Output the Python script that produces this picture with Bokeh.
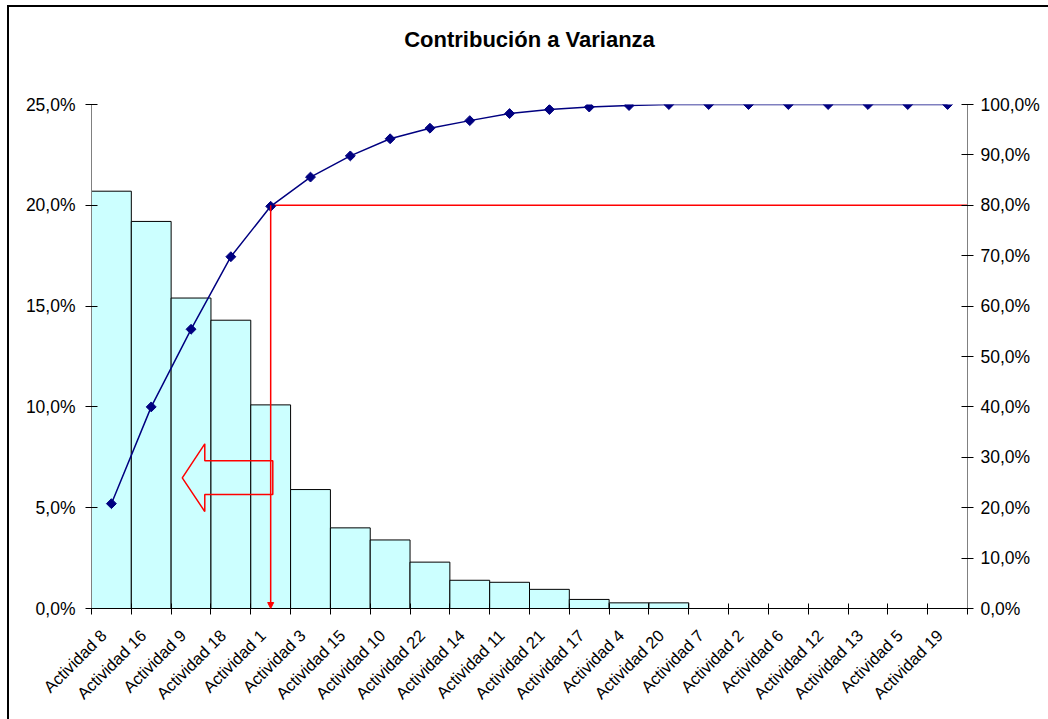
import numpy as np
from bokeh.plotting import figure
from bokeh.models import Range1d, LinearAxis, FixedTicker, Arrow, NormalHead, Title
from bokeh.embed import file_html
from bokeh.resources import INLINE

# ---------------- data ----------------
categories = ["Actividad 8", "Actividad 16", "Actividad 9", "Actividad 18", "Actividad 1",
              "Actividad 3", "Actividad 15", "Actividad 10", "Actividad 22", "Actividad 14",
              "Actividad 11", "Actividad 21", "Actividad 17", "Actividad 4", "Actividad 20",
              "Actividad 7", "Actividad 2", "Actividad 6", "Actividad 12", "Actividad 13",
              "Actividad 5", "Actividad 19"]
contribution = [20.7, 19.2, 15.4, 14.3, 10.1, 5.9, 4.0, 3.4, 2.3, 1.4, 1.3, 0.95, 0.45,
                0.28, 0.28, 0.0, 0.0, 0.0, 0.0, 0.0, 0.0, 0.0]
cumulative = [20.8, 40.0, 55.4, 69.8, 79.8, 85.6, 89.8, 93.2, 95.3, 96.8, 98.2, 99.0, 99.5,
              99.8, 100.0, 100.0, 100.0, 100.0, 100.0, 100.0, 100.0, 100.0]
left_ticks = [0, 5, 10, 15, 20, 25]
left_tick_labels = ["0,0%", "5,0%", "10,0%", "15,0%", "20,0%", "25,0%"]
right_ticks = [0, 10, 20, 30, 40, 50, 60, 70, 80, 90, 100]
right_tick_labels = ["0,0%", "10,0%", "20,0%", "30,0%", "40,0%", "50,0%", "60,0%",
                     "70,0%", "80,0%", "90,0%", "100,0%"]
threshold = 80.0
threshold_category = "Actividad 1"
title_text = "Contribución a Varianza"

# ---------------- figure ----------------
n = len(categories)
centers = [i + 0.5 for i in range(n)]
FONT = "Liberation Sans"
LABEL_SHIFT = 0.2  # category labels sit slightly left of the category centre

p = figure(width=1041, height=714, x_range=Range1d(0, n), y_range=Range1d(0, 25),
           output_backend="svg", toolbar_location=None, x_axis_location=None,
           title=title_text,
           min_border_left=84, min_border_right=81, min_border_top=99, min_border_bottom=111)
p.margin = (5, 0, 0, 7)
p.styles = {"box-shadow": "inset 2px 2px 0 0 #000000"}
p.xgrid.grid_line_color = None
p.ygrid.grid_line_color = None
p.outline_line_color = None
p.background_fill_color = "white"
p.border_fill_color = None

p.title.text_font = FONT
p.title.text_font_size = "22px"
p.title.text_font_style = "bold"
p.title.text_color = "black"
p.title.align = "center"
p.title.vertical_align = "bottom"
p.title.standoff = 10

# blank spacer between the title and the plot frame
p.add_layout(Title(text=" ", text_font_size="10px", standoff=35), "above")

# x axis
p.extra_x_ranges = {"lab": Range1d(LABEL_SHIFT, n + LABEL_SHIFT)}
xa = LinearAxis(x_range_name="lab",
                ticker=FixedTicker(ticks=centers,
                                   minor_ticks=[k + LABEL_SHIFT for k in range(n + 1)]))
xa.major_label_overrides = {c: lab for c, lab in zip(centers, categories)}
xa.major_tick_in = 0
xa.major_tick_out = 0
xa.major_tick_line_color = None
xa.minor_tick_in = 5
xa.minor_tick_out = 6
xa.minor_tick_line_color = "black"
xa.axis_line_color = "black"
xa.major_label_orientation = np.pi / 4
xa.major_label_text_font = FONT
xa.major_label_text_font_size = "16.5px"
xa.major_label_text_color = "black"
xa.major_label_standoff = 18
p.add_layout(xa, "below")

# left axis
ya = p.yaxis[0]
ya.ticker = FixedTicker(ticks=left_ticks)
ya.major_label_overrides = {t: l for t, l in zip(left_ticks, left_tick_labels)}
ya.major_tick_in = 6
ya.major_tick_out = 6
ya.major_tick_line_color = "black"
ya.minor_tick_line_color = None
ya.axis_line_color = "#808080"
ya.major_label_text_font = FONT
ya.major_label_text_font_size = "17.5px"
ya.major_label_text_color = "black"
ya.major_label_standoff = 10

# right axis
p.extra_y_ranges = {"cum": Range1d(0, 100)}
ra = LinearAxis(y_range_name="cum", ticker=FixedTicker(ticks=right_ticks))
ra.major_label_overrides = {t: l for t, l in zip(right_ticks, right_tick_labels)}
ra.major_tick_in = 6
ra.major_tick_out = 6
ra.major_tick_line_color = "black"
ra.minor_tick_line_color = None
ra.axis_line_color = "#808080"
ra.major_label_text_font = FONT
ra.major_label_text_font_size = "17.5px"
ra.major_label_text_color = "black"
ra.major_label_standoff = 7
p.add_layout(ra, "right")

# bars
p.vbar(x=centers, top=contribution, bottom=0, width=1.0,
       fill_color="#CCFFFF", line_color="black", line_width=1)

# threshold lines
tx = categories.index(threshold_category) + 0.5
p.segment(x0=[tx], y0=[threshold], x1=[n], y1=[threshold], y_range_name="cum",
          line_color="#FF0000", line_width=1.5)
p.add_layout(Arrow(x_start=tx, y_start=threshold, x_end=tx, y_end=0, y_range_name="cum",
                   line_color="#FF0000", line_width=1.5,
                   end=NormalHead(size=6, fill_color="#FF0000", line_color="#FF0000")))

# hollow block arrow (annotation)
ax = [2.28, 2.845, 2.845, 4.553, 4.553, 2.845, 2.845]
ay = [6.48, 8.17, 7.33, 7.33, 5.65, 5.65, 4.81]
p.patch(ax, ay, fill_alpha=0, line_color="#FF0000", line_width=1.5)

# cumulative line
p.line(x=centers, y=cumulative, y_range_name="cum", line_color="#000080", line_width=1.5)
p.scatter(x=centers, y=cumulative, y_range_name="cum", marker="square", angle=np.pi / 4,
          size=7, fill_color="#000080", line_color="#000080")

open("out.html", "w").write(file_html(p, INLINE))
